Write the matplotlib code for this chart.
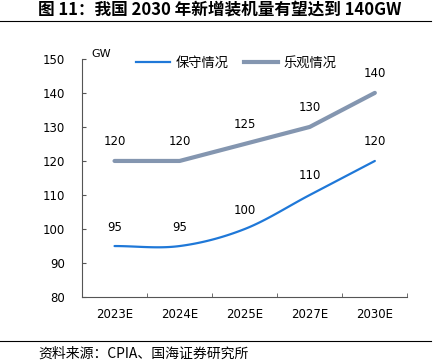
import numpy as np
import matplotlib.pyplot as plt
from matplotlib.lines import Line2D

plt.rcParams['font.family'] = ['Noto Sans CJK SC', 'DejaVu Sans']

years = ['2023E', '2024E', '2025E', '2027E', '2030E']
conservative = [95, 95, 100, 110, 120]
optimistic = [120, 120, 125, 130, 140]
blue = '#1F78D8'
grey = '#8496B0'


def smooth(xs, ys, n=30):
    # Catmull-Rom spline through the points, like the spreadsheet "smoothed line"
    px = np.concatenate([[2 * xs[0] - xs[1]], xs, [2 * xs[-1] - xs[-2]]])
    py = np.concatenate([[2 * ys[0] - ys[1]], ys, [2 * ys[-1] - ys[-2]]])
    ox, oy = [], []
    t = np.linspace(0, 1, n)
    for i in range(1, len(px) - 2):
        for p, o in ((px, ox), (py, oy)):
            p0, p1, p2, p3 = p[i - 1], p[i], p[i + 1], p[i + 2]
            o.extend(0.5 * (2 * p1 + (-p0 + p2) * t + (2 * p0 - 5 * p1 + 4 * p2 - p3) * t ** 2
                            + (-p0 + 3 * p1 - 3 * p2 + p3) * t ** 3))
    return ox, oy


fig = plt.figure(figsize=(4.35, 3.61), dpi=100)
ax = fig.add_axes([0.1885, 0.177, 0.748, 0.66])
x = np.arange(len(years))

sx, sy = smooth(x.astype(float), np.array(conservative, float))
ax.plot(sx, sy, color=blue, lw=1.6, solid_capstyle='round')
ax.plot(x, optimistic, color=grey, lw=3, solid_capstyle='round', solid_joinstyle='round')

for xi, v in zip(x, conservative):
    ax.annotate(str(v), (xi, v), xytext=(0, 9), textcoords='offset points',
                ha='center', va='bottom', fontsize=8.5, family='DejaVu Sans')
for xi, v in zip(x, optimistic):
    ax.annotate(str(v), (xi, v), xytext=(0, 9), textcoords='offset points',
                ha='center', va='bottom', fontsize=8.5, family='DejaVu Sans')

ax.set_xlim(-0.5, len(years) - 0.5)
ax.set_ylim(80, 150)
ax.set_yticks(range(80, 151, 10))
ax.set_xticks(x)
ax.set_xticklabels(years)
ax.set_xticks(np.arange(-0.5, len(years), 1), minor=True)
ax.tick_params(axis='x', which='major', length=0, pad=8, labelsize=8.5)
ax.tick_params(axis='x', which='minor', direction='in', length=3, color='#555555')
ax.tick_params(axis='y', direction='in', length=3, color='#555555', pad=12, labelsize=8.5)
for lab in ax.get_xticklabels() + ax.get_yticklabels():
    lab.set_family('DejaVu Sans')
ax.spines['top'].set_visible(False)
ax.spines['right'].set_visible(False)
ax.spines['left'].set_color('#555555')
ax.spines['bottom'].set_color('#555555')
ax.text(0.03, 1.0, 'GW', transform=ax.transAxes, fontsize=8, family='DejaVu Sans',
        ha='left', va='bottom')

handles = [Line2D([], [], color=blue, lw=1.6), Line2D([], [], color=grey, lw=3)]
ax.legend(handles, ['保守情况', '乐观情况'], loc='lower left', bbox_to_anchor=(0.165, 0.955),
          ncol=2, frameon=False, fontsize=9.5, handlelength=2.6, handletextpad=0.4,
          columnspacing=1.2, borderaxespad=0, borderpad=0)

fig.text(0.087, 0.972, '图 11：我国 2030 年新增装机量有望达到 140GW', fontsize=12,
         fontweight='bold', ha='left', va='center')
fig.add_artist(Line2D([0.0, 0.99], [0.943, 0.943], color='black', lw=0.8))
fig.add_artist(Line2D([0.0, 0.99], [0.055, 0.055], color='black', lw=0.8))
fig.text(0.087, 0.02, '资料来源：CPIA、国海证券研究所', fontsize=10, ha='left', va='center')

fig.savefig('out.png', dpi=100)
